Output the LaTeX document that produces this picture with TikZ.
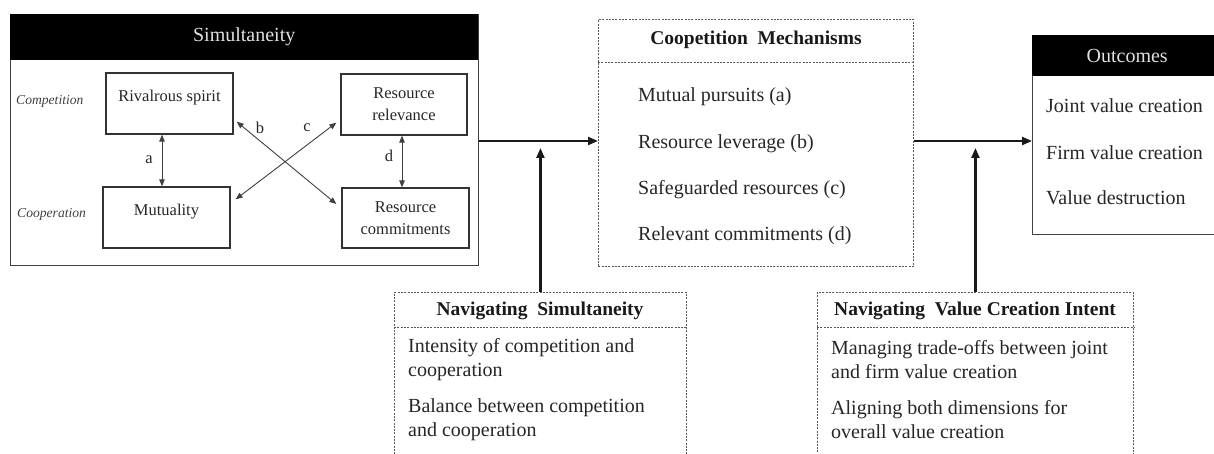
\documentclass[tikz,border=0pt]{standalone}
\usepackage{fontspec}
\setmainfont{Liberation Serif}
\usetikzlibrary{arrows.meta,calc}
\begin{document}
\begin{tikzpicture}[x=1pt,y=-1pt,
  txt/.style={font=\fontsize{20}{24}\selectfont, text=black!85, inner sep=0pt},
  hdtxt/.style={font=\bfseries\fontsize{19.5}{24}\selectfont, text=black!90, inner sep=0pt},
  smalltxt/.style={font=\fontsize{16.5}{22}\selectfont, text=black!85, inner sep=0pt, align=center},
  sidetxt/.style={font=\itshape\fontsize{13.6}{16}\selectfont, text=black!75, inner sep=0pt},
  solidbox/.style={draw=black!75, line width=1.3pt, inner sep=0pt},
  innerbox/.style={draw=black!80, line width=1.3pt, inner sep=0pt, smalltxt},
  dotbox/.style={draw=black!65, line width=0.9pt, dash pattern=on 2pt off 1.3pt, inner sep=0pt},
  blackhead/.style={fill=black, inner sep=0pt, text=white!88!black, font=\fontsize{20}{24}\selectfont},
  mainarrow/.style={line width=2.2pt, black!90, -{Triangle[length=10pt,width=8pt]}},
  duo/.style={line width=0.9pt, black!75, {Triangle[length=7pt,width=5.5pt]}-{Triangle[length=7pt,width=5.5pt]}}
]
\useasboundingbox (0,0) rectangle (1214,454);
\clip (0,0) rectangle (1214,454);

% ---------- Simultaneity ----------
\node[solidbox, minimum width=468pt, minimum height=251pt, anchor=north west] (sim) at (10,14) {};
\node[blackhead, minimum width=468pt, minimum height=46pt, anchor=north west] (simhead) at (10,14) {Simultaneity};

\node[sidetxt, anchor=west] (comp) at (16,101) {Competition};
\node[sidetxt, anchor=west] (coop) at (17,214) {Cooperation};

\node[innerbox, minimum width=127pt, minimum height=61pt] (riv) at (169.5,103.5) {\raisebox{5.5pt}[\height][\depth]{Rivalrous spirit}};
\node[innerbox, minimum width=127pt, minimum height=61pt] (mut) at (166.5,217.5) {\raisebox{5.5pt}[\height][\depth]{Mutuality}};
\node[innerbox, minimum width=126pt, minimum height=61pt] (rel) at (404,104.5) {Resource\\relevance};
\node[innerbox, minimum width=127pt, minimum height=60pt] (com) at (405.5,218) {Resource\\commitments};

\draw[duo] ([xshift=-7.5pt]riv.south) -- ([xshift=-4.5pt]mut.north);
\draw[duo] ([xshift=-2pt]rel.south) -- ([xshift=-3.5pt]com.north);
\draw[duo] ([xshift=3pt,yshift=13pt]riv.south east) -- ([xshift=-5pt,yshift=14pt]com.west);
\draw[duo] ([xshift=5pt,yshift=-13pt]mut.north east) -- ([xshift=-4pt,yshift=13pt]rel.south west);

\node[smalltxt] (la) at (149,160) {a};
\node[smalltxt] (lb) at (260,128) {b};
\node[smalltxt] (lc) at (307,128) {c};
\node[smalltxt] (ld) at (389,156) {d};

% ---------- Coopetition Mechanisms ----------
\node[dotbox, minimum width=315pt, minimum height=247pt, anchor=north west] (mech) at (598,19) {};
\node[hdtxt] (mechhead) at (756,40) {Coopetition\ \ Mechanisms};
\draw[dotbox] (mech.west |- 0,62) -- (mech.east |- 0,62);
\node[txt, anchor=west] (m1) at (638,97) {Mutual pursuits (a)};
\node[txt, anchor=west] (m2) at (638,144) {Resource leverage (b)};
\node[txt, anchor=west] (m3) at (638,190) {Safeguarded resources (c)};
\node[txt, anchor=west] (m4) at (638,236) {Relevant commitments (d)};

% ---------- Outcomes ----------
\node[solidbox, minimum width=190pt, minimum height=199pt, anchor=north west] (out) at (1032,35) {};
\node[blackhead, minimum width=190pt, minimum height=41pt, anchor=north west] (outhead) at (1032,35) {Outcomes};
\node[txt, anchor=west] (o1) at (1046,106) {Joint value creation};
\node[txt, anchor=west] (o2) at (1046,153) {Firm value creation};
\node[txt, anchor=west] (o3) at (1046,198) {Value destruction};

% ---------- Navigating Simultaneity ----------
\node[dotbox, minimum width=292pt, minimum height=200pt, anchor=north west] (navs) at (394,292) {};
\node[hdtxt] (navshead) at (540,311) {Navigating\ \ Simultaneity};
\draw[dotbox] (navs.west |- 0,327) -- (navs.east |- 0,327);
\node[txt, anchor=west, align=left] (s1) at (408,360) {Intensity of competition and\\cooperation};
\node[txt, anchor=west, align=left] (s2) at (408,420) {Balance between competition\\and cooperation};

% ---------- Navigating Value Creation Intent ----------
\node[dotbox, minimum width=316pt, minimum height=200pt, anchor=north west] (navv) at (817,292) {};
\node[hdtxt] (navvhead) at (975,311) {Navigating\ \ Value\ Creation\ Intent};
\draw[dotbox] (navv.west |- 0,327) -- (navv.east |- 0,327);
\node[txt, anchor=west, align=left] (v1) at (831,360) {Managing trade-offs between joint\\and firm value creation};
\node[txt, anchor=west, align=left] (v2) at (831,420) {Aligning both dimensions for\\overall value creation};

% ---------- Main connectors ----------
\draw[mainarrow] (sim.east |- 0,141) -- (mech.west |- 0,141);
\draw[mainarrow] (mech.east |- 0,141) -- (out.west |- 0,141);
\draw[mainarrow] (navs.north) -- (navs.north |- 0,148);
\draw[mainarrow] (navv.north) -- (navv.north |- 0,148);
\end{tikzpicture}
\end{document}
